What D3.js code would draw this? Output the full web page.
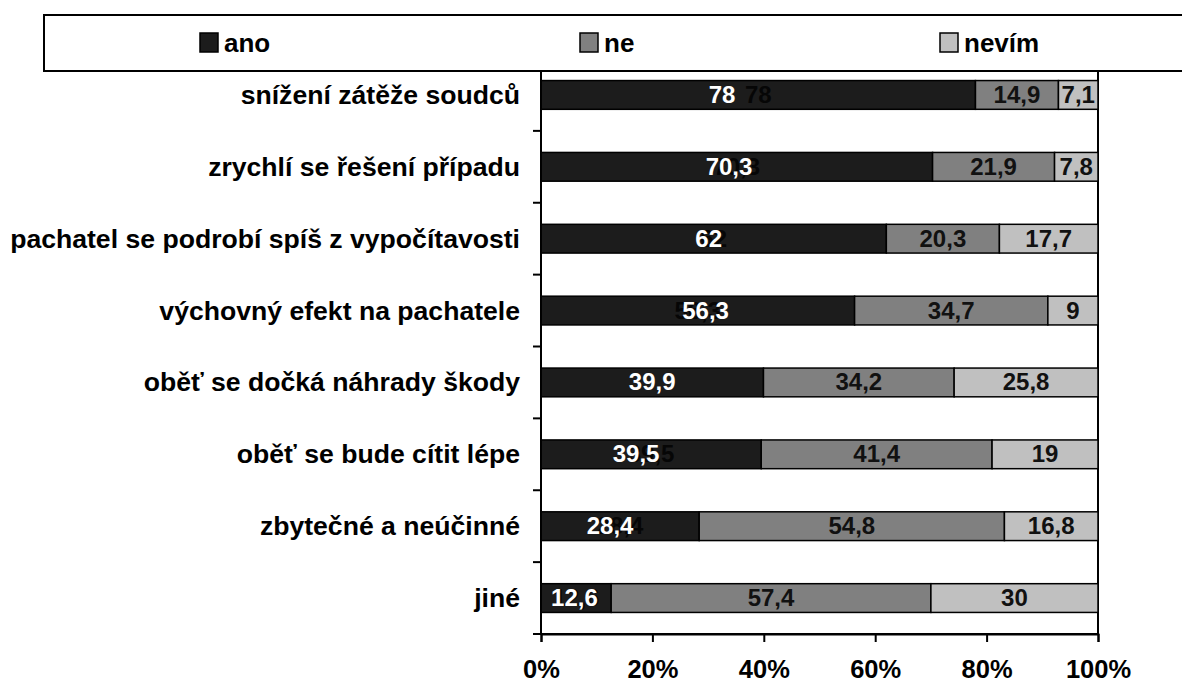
<!DOCTYPE html>
<html>
<head>
<meta charset="utf-8">
<script src="https://cdn.jsdelivr.net/npm/d3@7"></script>
<style>
  html, body { margin: 0; padding: 0; background: #fff; }
  svg { display: block; font-family: "Liberation Sans", Arial, sans-serif; font-weight: bold; }
</style>
</head>
<body>
<svg id="chart" width="1182" height="684"></svg>
<script>
// ---- data ----
const categories = [
  "snížení zátěže soudců",
  "zrychlí se řešení případu",
  "pachatel se podrobí spíš z vypočítavosti",
  "výchovný efekt na pachatele",
  "oběť se dočká náhrady škody",
  "oběť se bude cítit lépe",
  "zbytečné a neúčinné",
  "jiné"
];
const seriesNames = ["ano", "ne", "nevím"];
const ano   = [78, 70.3, 62, 56.3, 39.9, 39.5, 28.4, 12.6];
const ne    = [14.9, 21.9, 20.3, 34.7, 34.2, 41.4, 54.8, 57.4];
const nevim = [7.1, 7.8, 17.7, 9, 25.8, 19, 16.8, 30];
const xTicks = [0, 20, 40, 60, 80, 100];
const xTickLabels = ["0%", "20%", "40%", "60%", "80%", "100%"];
// shift (in percentage points) of the white "ano" labels relative to the segment centre
const anoLabelShift = [-6.5, -1.4, -0.9, 1.4, 0, -2.7, -1.8, -0.3];

// ---- layout / style ----
const colors = ["#1c1c1c", "#808080", "#c0c0c0"];
const plot = { left: 541, right: 1098, top: 59, bottom: 634 };

const svg = d3.select("#chart");

const x = d3.scaleLinear().domain([0, 100]).range([plot.left, plot.right]);
const y = d3.scaleBand().domain(categories).range([plot.top, plot.bottom]).paddingInner(0.6).paddingOuter(0.3);

// stacked data (100% stacked, normalised per row)
const rows = categories.map((c, i) => {
  const vals = [ano[i], ne[i], nevim[i]];
  const total = d3.sum(vals);
  let cum = 0;
  return vals.map((v, s) => {
    const x0 = cum / total * 100;
    cum += v;
    const x1 = cum / total * 100;
    return { cat: c, i, s, v, x0, x1 };
  });
});
const segs = rows.flat();

// plot area border (right edge visible)
svg.append("rect")
  .attr("x", plot.left).attr("y", plot.top)
  .attr("width", plot.right - plot.left).attr("height", plot.bottom - plot.top)
  .attr("fill", "#fff").attr("stroke", "#000").attr("stroke-width", 2);

// bars
svg.append("g").selectAll("rect").data(segs).join("rect")
  .attr("x", d => x(d.x0))
  .attr("y", d => y(d.cat))
  .attr("width", d => x(d.x1) - x(d.x0))
  .attr("height", y.bandwidth())
  .attr("fill", d => colors[d.s])
  .attr("stroke", "#000")
  .attr("stroke-width", 1.5);

const fmt = v => String(v).replace(".", ",");
const cy = d => y(d.cat) + y.bandwidth() / 2 + 8;

// ghost labels (dark on dark) at segment centre for "ano"
svg.append("g").selectAll("text").data(segs.filter(d => d.s === 0)).join("text")
  .attr("x", d => x((d.x0 + d.x1) / 2))
  .attr("y", cy)
  .attr("text-anchor", "middle")
  .attr("font-size", 24)
  .attr("fill", "#060606")
  .text(d => fmt(d.v));

// value labels
svg.append("g").selectAll("text").data(segs).join("text")
  .attr("x", d => x((d.x0 + d.x1) / 2 + (d.s === 0 ? anoLabelShift[d.i] : 0)))
  .attr("y", cy)
  .attr("text-anchor", "middle")
  .attr("font-size", 24)
  .attr("fill", d => d.s === 0 ? "#fff" : "#111")
  .text(d => fmt(d.v));

// y axis (ticks at band boundaries)
const yAxisG = svg.append("g");
yAxisG.append("line")
  .attr("x1", plot.left).attr("x2", plot.left)
  .attr("y1", plot.top).attr("y2", plot.bottom)
  .attr("stroke", "#000").attr("stroke-width", 2);
const bounds = d3.range(categories.length + 1).map(k => plot.top + k * y.step());
yAxisG.selectAll("line.tk").data(bounds).join("line").attr("class", "tk")
  .attr("x1", plot.left - 8).attr("x2", plot.left)
  .attr("y1", d => d).attr("y2", d => d)
  .attr("stroke", "#000").attr("stroke-width", 2);
yAxisG.selectAll("text").data(categories).join("text")
  .attr("x", 520)
  .attr("y", d => y(d) + y.bandwidth() / 2 + 9)
  .attr("text-anchor", "end")
  .attr("font-size", 26.6)
  .attr("fill", "#000")
  .text(d => d);

// x axis
const xAxis = d3.axisBottom(x).tickValues(xTicks).tickSize(8).tickPadding(18)
  .tickFormat((d, i) => xTickLabels[i]);
const xg = svg.append("g").attr("transform", `translate(0,${plot.bottom})`).call(xAxis);
xg.select(".domain").attr("stroke", "#000").attr("stroke-width", 2);
xg.selectAll(".tick line").attr("stroke", "#000").attr("stroke-width", 2);
xg.selectAll(".tick text")
  .attr("font-size", 25.5).attr("font-weight", "bold")
  .attr("font-family", "Liberation Sans, Arial, sans-serif")
  .attr("fill", "#000");

// legend
const lg = svg.append("g");
lg.append("rect")
  .attr("x", 44).attr("y", 15).attr("width", 1182).attr("height", 56)
  .attr("fill", "#fff").attr("stroke", "#000").attr("stroke-width", 2);
const legendX = [200, 580, 940];
const items = lg.selectAll("g.item").data(seriesNames).join("g").attr("class", "item")
  .attr("transform", (d, i) => `translate(${legendX[i]},43)`);
items.append("rect")
  .attr("x", 0).attr("y", -10).attr("width", 18).attr("height", 19)
  .attr("fill", (d, i) => colors[i]).attr("stroke", "#000").attr("stroke-width", 1.5);
items.append("text")
  .attr("x", 24).attr("y", 9)
  .attr("font-size", 26)
  .attr("fill", "#000")
  .text(d => d);
</script>
</body>
</html>
